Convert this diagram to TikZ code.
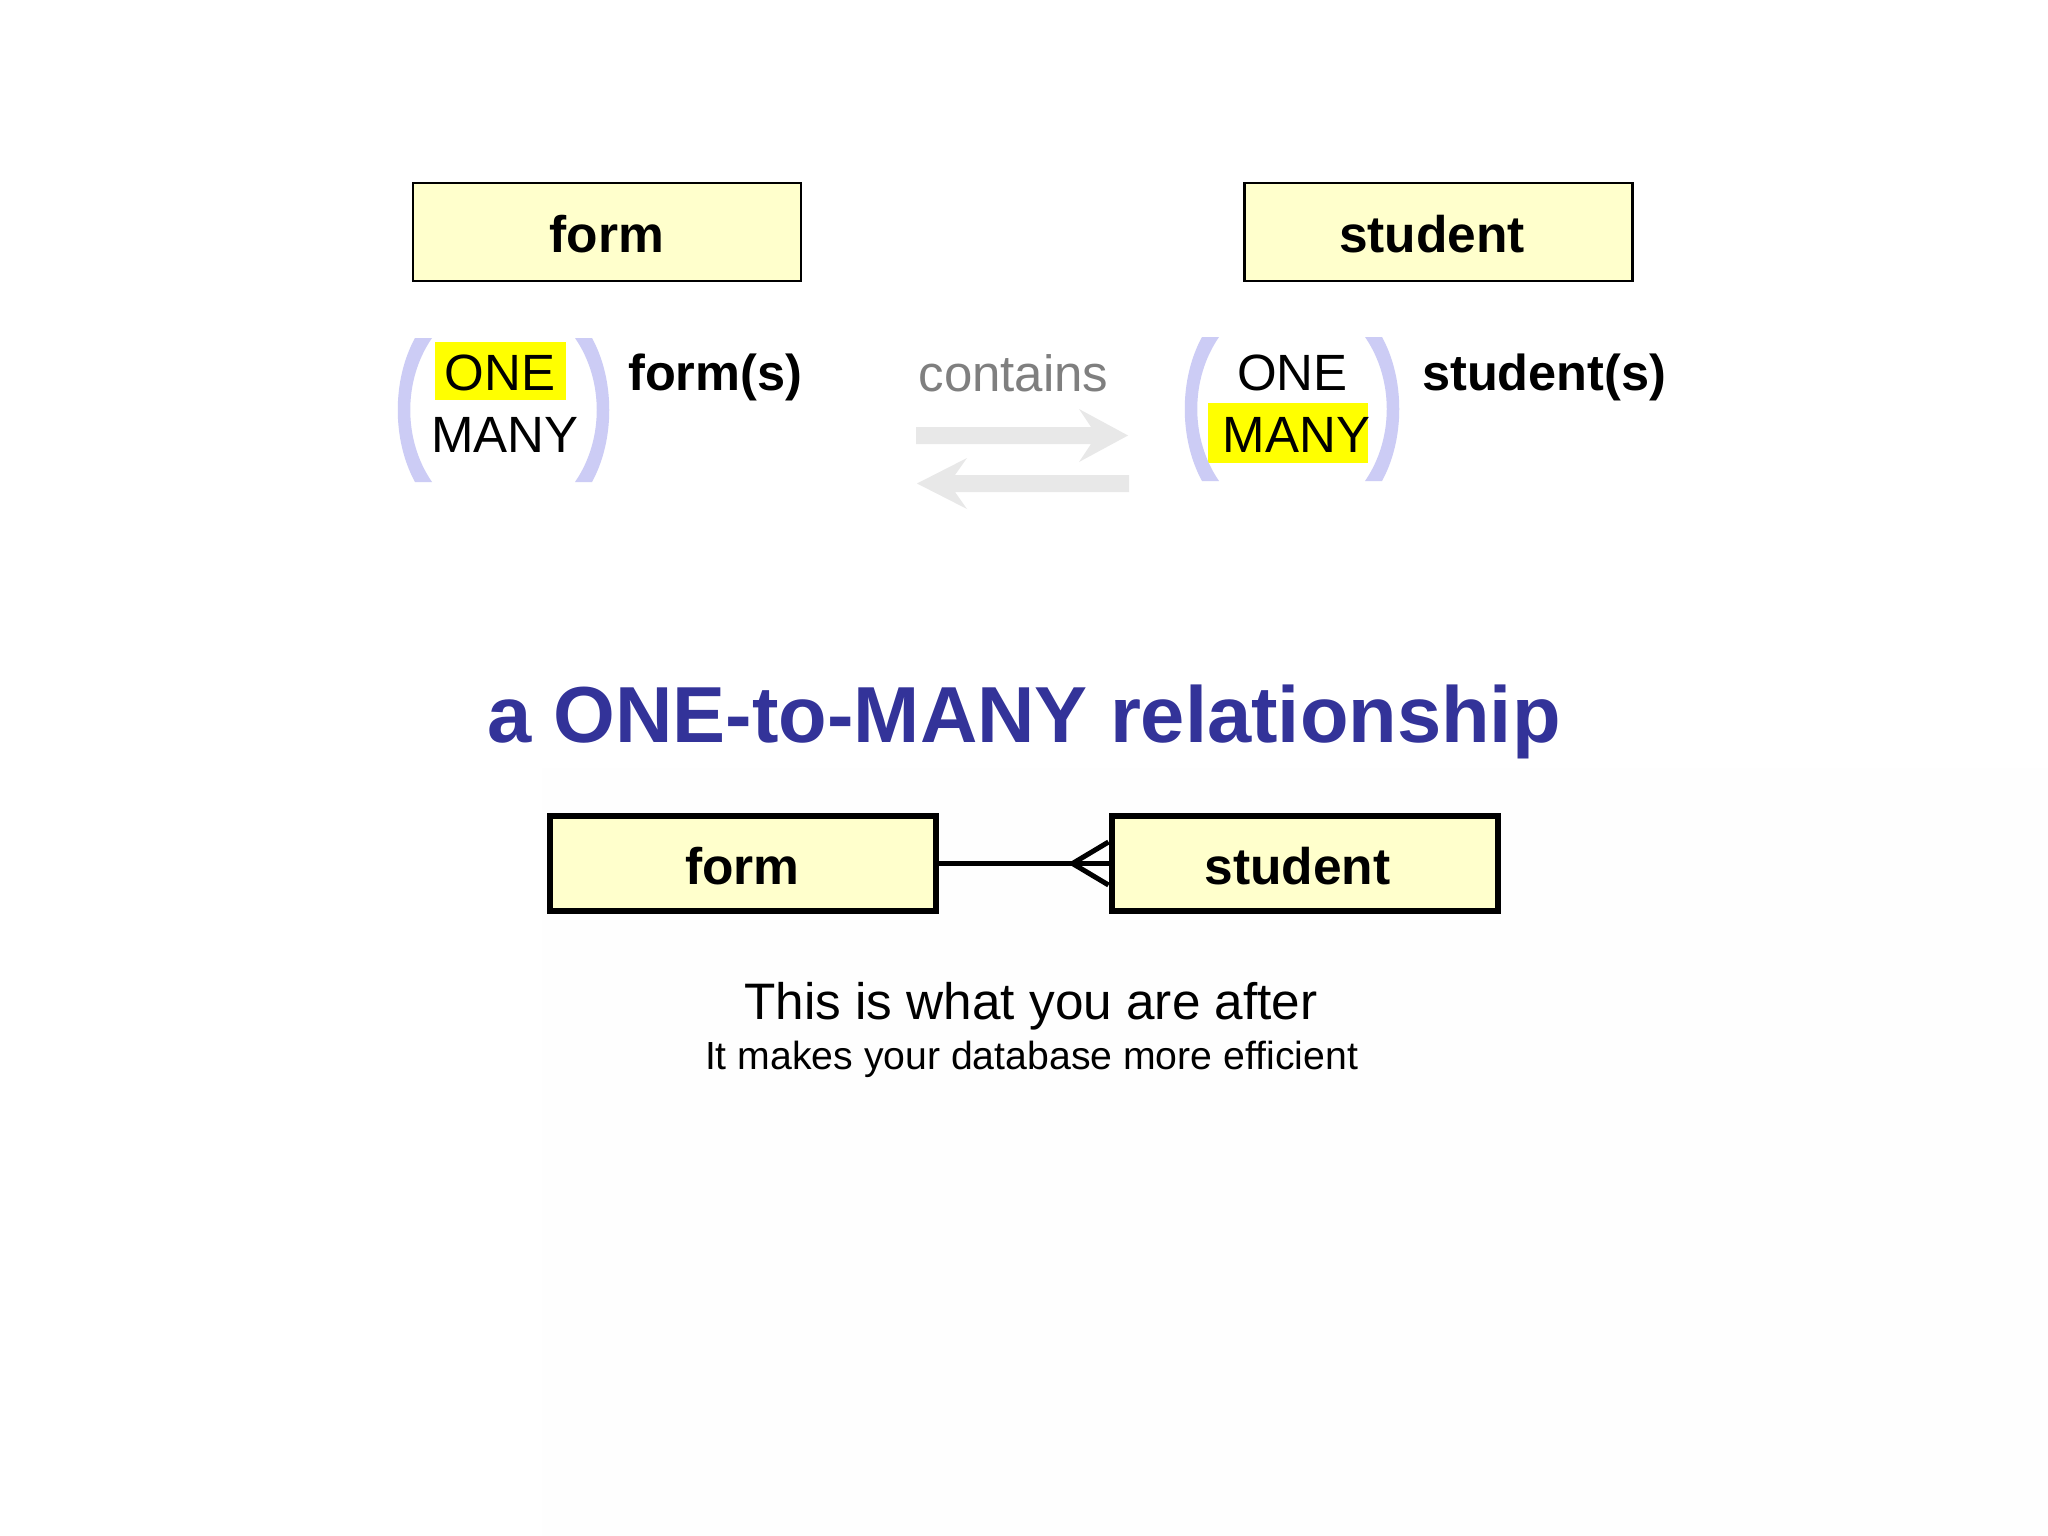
\documentclass[tikz,border=0pt]{standalone}
\usepackage{fontspec}
\setmainfont{Liberation Sans}
\definecolor{boxfill}{HTML}{FFFFCC}
\definecolor{parencol}{HTML}{CCCCF5}
\definecolor{hlyellow}{HTML}{FFFF00}
\definecolor{arrowgray}{HTML}{E8E8E8}
\definecolor{titleblue}{HTML}{333399}
\definecolor{containsgray}{HTML}{7F7F7F}
\definecolor{faintbg}{HTML}{FEFEFE}
\newcommand\setfs[1]{\fontsize{#1}{#1}\selectfont}
\tikzset{
  topbox/.style={draw=black, line width=2.5pt, fill=boxfill, minimum width=388pt,
    minimum height=98pt, inner sep=0pt},
  erbox/.style={draw=black, line width=6pt, fill=boxfill, minimum width=386pt,
    minimum height=95pt, inner sep=0pt},
  boxtext/.style={inner sep=0pt, anchor=base, font=\setfs{51.5}\bfseries},
  word/.style={inner sep=0pt, anchor=base, font=\setfs{51}},
  boldword/.style={inner sep=0pt, anchor=base west, font=\setfs{50.5}\bfseries},
  relline/.style={draw=black, line width=5pt},
  lparen/.pic={\fill[parencol] (-17,0) .. controls (-40,42) and (-40,102) .. (-17,144)
     -- (0,144) .. controls (-29,102) and (-29,42) .. (0,0) -- cycle;},
}
\begin{document}
\begin{tikzpicture}[x=1pt,y=-1pt]
\useasboundingbox (0,0) rectangle (2048,1536);
\fill[white] (0,0) rectangle (2048,1536);
\fill[faintbg] (542,768) rectangle (2048,1536);

% top entity boxes
\node[topbox] (formtop) at (607,232) {};
\node[boxtext] (formtoptxt) at (607,252) {form};
\node[topbox] (studenttop) at (1438.5,232) {};
\node[boxtext] (studenttoptxt) at (1432,252) {student};

% left group
\fill[hlyellow] (435,342) rectangle (566,400);
\pic at (432,338) {lparen};
\pic[xscale=-1] at (575,338) {lparen};
\node[word] (oneL) at (500,390) {ONE};
\node[word] (manyL) at (505,452) {MANY};
\node[boldword] (forms) at (628,390) {form(s)};

% middle
\node[word, text=containsgray] (contains) at (1013.5,391) {contains};
\fill[arrowgray] (916,427) -- (1091,427) -- (1079,409) -- (1128,435.5) -- (1079,462)
  -- (1091,444) -- (916,444) -- cycle;
\fill[arrowgray] (1129,475) -- (955,475) -- (967,458) -- (917,483.5) -- (967,509)
  -- (955,492) -- (1129,492) -- cycle;

% right group
\fill[hlyellow] (1208,403) rectangle (1368,463);
\pic at (1219,337) {lparen};
\pic[xscale=-1] at (1365,337) {lparen};
\node[word] (oneR) at (1292.5,390) {ONE};
\node[word] (manyR) at (1296.5,452) {MANY};
\node[boldword] (students) at (1422,390) {student(s)};

% title
\node[inner sep=0pt, anchor=base, text=titleblue, font=\setfs{79.5}\bfseries] (title)
  at (1024,742) {a ONE-to-MANY relationship};

% ER diagram
\node[erbox] (former) at (743,863.5) {};
\node[boxtext] (formertxt) at (742.5,884) {form};
\node[erbox] (studenter) at (1304.5,863.5) {};
\node[boxtext] (studentertxt) at (1297.5,884) {student};
\coordinate (apex) at ([xshift=-36pt]studenter.west);
\draw[relline] (former.east) -- (studenter.west);
\draw[relline, line join=miter] ([yshift=21.5pt]studenter.west) -- (apex) -- ([yshift=-21.5pt]studenter.west);

% captions
\node[word, font=\setfs{51.3}] (cap1) at (1031,1019) {This is what you are after};
\node[word, font=\setfs{39.2}] (cap2) at (1031.5,1069) {It makes your database more efficient};
\end{tikzpicture}
\end{document}
